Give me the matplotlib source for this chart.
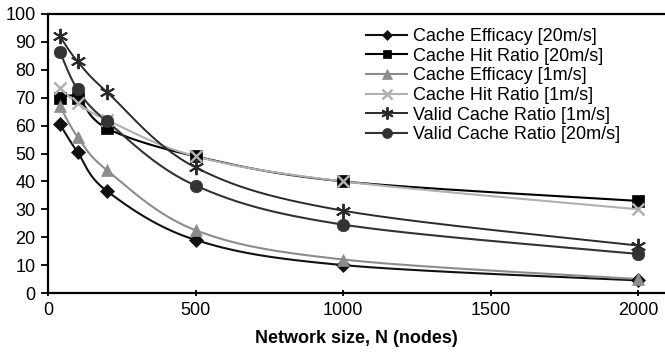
import numpy as np
import matplotlib
matplotlib.use("Agg")
import matplotlib.pyplot as plt

plt.rcParams['font.family'] = ['Liberation Sans', 'DejaVu Sans']

nodes = [40, 100, 200, 500, 1000, 2000]
eff_20 = [60.5, 50.5, 36.5, 19, 10, 4.5]
hit_20 = [70, 70, 59, 49, 40, 33]
eff_1 = [67, 56, 44, 22.5, 12, 5]
hit_1 = [73.5, 68, 62, 49, 40, 30]
valid_1 = [92, 83, 72, 45, 29.5, 17]
valid_20 = [86.5, 73, 61.5, 38.5, 24.5, 14]
labels = ["Cache Efficacy [20m/s]", "Cache Hit Ratio [20m/s]", "Cache Efficacy [1m/s]",
          "Cache Hit Ratio [1m/s]", "Valid Cache Ratio [1m/s]", "Valid Cache Ratio [20m/s]"]


def smooth(x, y, n=30):
    # Excel-style smoothed line (Catmull-Rom bezier, tension 1/6)
    x = np.asarray(x, float); y = np.asarray(y, float)
    px, py = [], []
    for i in range(len(x) - 1):
        x0, y0 = (x[i - 1], y[i - 1]) if i > 0 else (x[i], y[i])
        x3, y3 = (x[i + 2], y[i + 2]) if i + 2 < len(x) else (x[i + 1], y[i + 1])
        x1, y1, x2, y2 = x[i], y[i], x[i + 1], y[i + 1]
        c1x = x1 + (x2 - x0) / 6; c1y = y1 + (y2 - y0) / 6
        c2x = x2 - (x3 - x1) / 6; c2y = y2 - (y3 - y1) / 6
        t = np.linspace(0, 1, n)
        bx = (1 - t) ** 3 * x1 + 3 * (1 - t) ** 2 * t * c1x + 3 * (1 - t) * t ** 2 * c2x + t ** 3 * x2
        by = (1 - t) ** 3 * y1 + 3 * (1 - t) ** 2 * t * c1y + 3 * (1 - t) * t ** 2 * c2y + t ** 3 * y2
        px.extend(bx); py.extend(by)
    return px, py


fig = plt.figure(figsize=(6.65, 3.61), dpi=100)
ax = fig.add_axes([48 / 665, 1 - 293 / 361, 1 - 48 / 665, (293 - 14) / 361])

series = [
    (eff_20, '#111111', 'D', 7, 1.5, 0.5),
    (hit_20, '#000000', 's', 8, 1.5, 0.5),
    (eff_1, '#8c8c8c', '^', 9, 1.5, 0.5),
    (hit_1, '#b0b0b0', 'x', 9, 1.5, 1.8),
    (valid_1, '#2a2a2a', (6, 2, 0), 11, 1.4, 1.4),
    (valid_20, '#333333', 'o', 9, 1.5, 0.5),
]
for (vals, col, mk, ms, lw, mew), lab in zip(series, labels):
    sx, sy = smooth(nodes, vals)
    ax.plot(sx, sy, color=col, lw=lw, zorder=2)
    ax.plot(nodes, vals, linestyle='none', marker=mk, ms=ms, color=col, mec=col, mew=mew, zorder=3)
    ax.plot([], [], color=col, lw=lw, marker=mk, ms=ms * 0.8, mec=col, mew=mew, label=lab)

ax.set_xlim(0, 2090)
ax.set_ylim(0, 100)
ax.set_xticks([0, 500, 1000, 1500, 2000])
ax.set_yticks(range(0, 101, 10))
ax.spines['right'].set_visible(False)
for s in ['left', 'bottom', 'top']:
    ax.spines[s].set_linewidth(1.6)
ax.tick_params(axis='both', labelsize=13, width=1.3, length=5, direction='inout', pad=4)
ax.tick_params(axis='y', direction='out', length=5)
ax.set_xlabel("Network size, N (nodes)", fontsize=13, fontweight='bold', labelpad=8)

leg = ax.legend(loc='upper left', bbox_to_anchor=(0.515, 0.95), frameon=False, fontsize=13,
                handlelength=2.3, handletextpad=0.3, labelspacing=0.15, borderaxespad=0.0,
                borderpad=0.0)

fig.savefig("out.png", dpi=100)
